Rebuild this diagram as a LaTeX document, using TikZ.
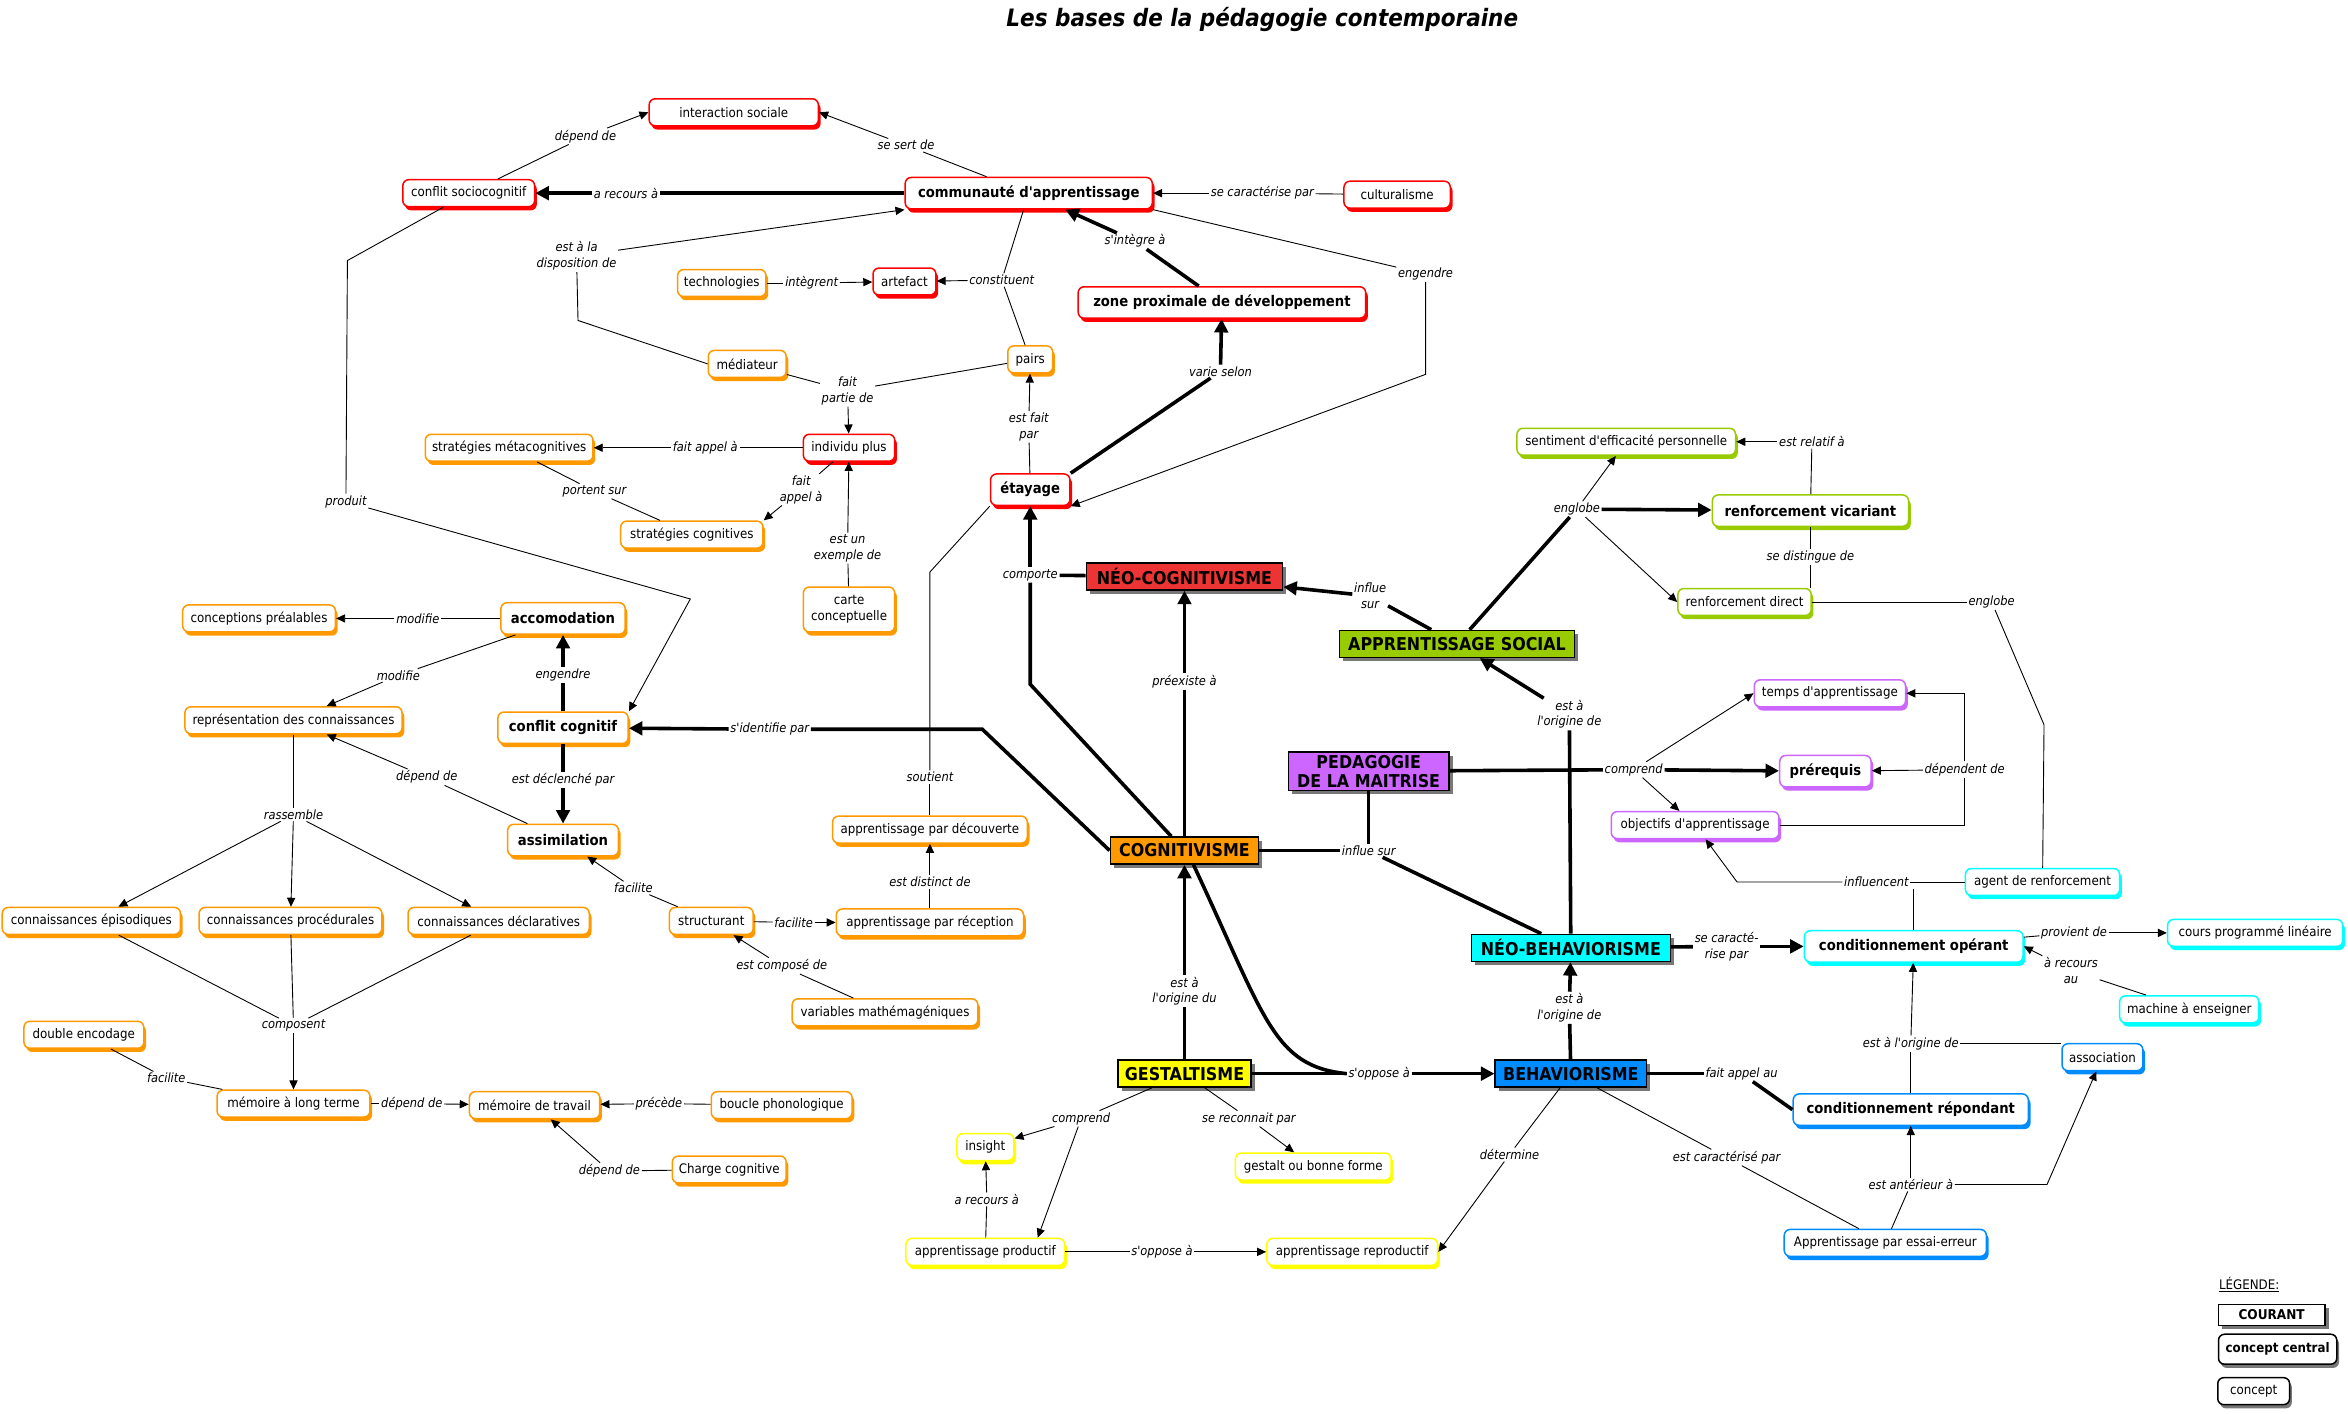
\documentclass[tikz,border=0pt]{standalone}
\usepackage{fontspec}
\setmainfont{DejaVu Sans Condensed}[Ligatures=TeXOff]
\usepackage{tikz}
\usetikzlibrary{arrows.meta,calc,positioning,shadows}
\definecolor{cmrouge}{RGB}{255,0,0}
\definecolor{cmrougefonce}{RGB}{236,52,52}
\definecolor{cmorange}{RGB}{255,153,0}
\definecolor{cmjaune}{RGB}{255,255,0}
\definecolor{cmvert}{RGB}{153,204,0}
\definecolor{cmviolet}{RGB}{204,102,255}
\definecolor{cmcyan}{RGB}{0,255,255}
\definecolor{cmbleu}{RGB}{0,140,255}
\definecolor{cmombre}{RGB}{120,120,120}
\newcommand\fconcept{\fontsize{8.8}{10.5}\selectfont}
\newcommand\fcentral{\fontsize{9.8}{11.5}\selectfont\bfseries}
\newcommand\fcourant{\fontsize{11.8}{12.8}\selectfont\bfseries}
\newcommand\flien{\fontsize{8.5}{10.5}\selectfont\itshape}
\newcommand\ftitre{\fontsize{16}{18}\selectfont\bfseries\itshape}

\begin{document}
\begin{tikzpicture}[
      x=1pt, y=-1pt,
      concept/.style={draw=#1, fill=white, rounded corners=4pt, line width=1pt, inner xsep=4pt, inner ysep=2pt, minimum height=18pt, align=center, font=\fconcept, drop shadow={shadow xshift=1.5pt, shadow yshift=-2.5pt, fill=#1, opacity=1}},
      central/.style={concept=#1, font=\fcentral, minimum height=21pt},
      courant/.style={draw=black, fill=#1, line width=1pt, inner xsep=3pt, inner ysep=2pt, minimum height=18pt, align=center, font=\fcourant, drop shadow={shadow xshift=2.5pt, shadow yshift=-2.5pt, fill=cmombre, opacity=1}},
      legende/.style={draw=black, fill=white, rounded corners=4pt, line width=1pt, inner xsep=4pt, minimum height=18pt, font=\fconcept, drop shadow={shadow xshift=1.5pt, shadow yshift=-2.5pt, fill=cmombre, opacity=1}},
      lien/.style={font=\flien, inner sep=1pt, align=center},
      trait/.style={line width=0.6pt},
      fleche/.style={line width=0.6pt, -{Triangle[length=6pt,width=5.5pt]}},
      gros/.style={line width=2.4pt},
      grosfleche/.style={line width=2.4pt, -{Triangle[length=9pt,width=9pt]}}
    ]
      \path[use as bounding box, fill=white] (0,0) rectangle (1568,944);

      \node[font=\ftitre] (titre) at (843,13) {Les bases de la pédagogie contemporaine};

      % courants
      \node[courant=cmrougefonce, minimum width=131pt] (ncog) at (791,385) {NÉO-COGNITIVISME};
      \node[courant=cmorange, minimum width=99pt] (cogn) at (791,568) {COGNITIVISME};
      \node[courant=cmjaune, minimum width=89pt] (gest) at (791,717) {GESTALTISME};
      \node[courant=cmvert, minimum width=157pt] (aps) at (973,430) {APPRENTISSAGE SOCIAL};
      \node[courant=cmviolet, minimum width=107pt] (ped) at (914,515) {PEDAGOGIE\\DE LA MAITRISE};
      \node[courant=cmcyan, minimum width=133pt] (nbeh) at (1049,633) {NÉO-BEHAVIORISME};
      \node[courant=cmbleu, minimum width=101pt] (beh) at (1049,717) {BEHAVIORISME};

      % concepts rouges
      \node[concept=cmrouge, minimum width=113pt] (inter) at (490,75) {interaction sociale};
      \node[concept=cmrouge, minimum width=88pt] (csc) at (313,129) {conflit sociocognitif};
      \node[central=cmrouge, minimum width=165pt] (comm) at (687,129) {communauté d'apprentissage};
      \node[concept=cmrouge, minimum width=71pt] (cult) at (933,130) {culturalisme};
      \node[concept=cmrouge, minimum width=42pt] (artef) at (604,188) {artefact};
      \node[central=cmrouge, minimum width=192pt] (zpd) at (816,202) {zone proximale de développement};
      \node[concept=cmrouge, minimum width=61pt] (indiv) at (567,299) {individu plus};
      \node[central=cmrouge, minimum width=53pt] (etay) at (688,327) {étayage};

      % concepts orange
      \node[concept=cmorange, minimum width=59pt] (techno) at (482,189) {technologies};
      \node[concept=cmorange, minimum width=52pt] (media) at (499,243) {médiateur};
      \node[concept=cmorange, minimum width=30pt] (pairs) at (688,240) {pairs};
      \node[concept=cmorange, minimum width=112pt] (smeta) at (340,299) {stratégies métacognitives};
      \node[concept=cmorange, minimum width=95pt] (scog) at (462,357) {stratégies cognitives};
      \node[concept=cmorange, minimum width=61pt, minimum height=30pt] (carte) at (567,407) {carte\\conceptuelle};
      \node[concept=cmorange, minimum width=102pt] (concp) at (173,413) {conceptions préalables};
      \node[central=cmorange, minimum width=83pt] (accom) at (376,413) {accomodation};
      \node[concept=cmorange, minimum width=145pt] (repr) at (196,481) {représentation des connaissances};
      \node[central=cmorange, minimum width=87pt] (ccog) at (376,486) {conflit cognitif};
      \node[central=cmorange, minimum width=74pt] (assim) at (376,561) {assimilation};
      \node[concept=cmorange, minimum width=130pt] (decouv) at (621,554) {apprentissage par découverte};
      \node[concept=cmorange, minimum width=119pt] (kepi) at (61,615) {connaissances épisodiques};
      \node[concept=cmorange, minimum width=122pt] (kproc) at (194,615) {connaissances procédurales};
      \node[concept=cmorange, minimum width=121pt] (kdecl) at (333,615) {connaissances déclaratives};
      \node[concept=cmorange, minimum width=56pt] (struct) at (475,615) {structurant};
      \node[concept=cmorange, minimum width=125pt] (recep) at (621,616) {apprentissage par réception};
      \node[concept=cmorange, minimum width=124pt] (varm) at (591,676) {variables mathémagéniques};
      \node[concept=cmorange, minimum width=80pt] (dbl) at (56,691) {double encodage};
      \node[concept=cmorange, minimum width=102pt] (mlt) at (196,737) {mémoire à long terme};
      \node[concept=cmorange, minimum width=87pt] (mtr) at (357,738) {mémoire de travail};
      \node[concept=cmorange, minimum width=94pt] (boucle) at (522,738) {boucle phonologique};
      \node[concept=cmorange, minimum width=76pt] (charge) at (487,781) {Charge cognitive};

      % concepts jaunes
      \node[concept=cmjaune, minimum width=38pt] (insight) at (658,766) {insight};
      \node[concept=cmjaune, minimum width=104pt] (gestf) at (877,779) {gestalt ou bonne forme};
      \node[concept=cmjaune, minimum width=106pt] (aprod) at (658,836) {apprentissage productif};
      \node[concept=cmjaune, minimum width=114pt] (arepr) at (903,836) {apprentissage reproductif};

      % concepts verts
      \node[concept=cmvert, minimum width=146pt] (sent) at (1086,295) {sentiment d'efficacité personnelle};
      \node[central=cmvert, minimum width=131pt] (rvic) at (1209,341) {renforcement vicariant};
      \node[concept=cmvert, minimum width=89pt] (rdir) at (1165,402) {renforcement direct};

      % concepts violets
      \node[concept=cmviolet, minimum width=101pt] (temps) at (1222,463) {temps d'apprentissage};
      \node[central=cmviolet, minimum width=61pt] (prereq) at (1219,515) {prérequis};
      \node[concept=cmviolet, minimum width=112pt] (objec) at (1132,551) {objectifs d'apprentissage};

      % concepts cyan et bleus
      \node[central=cmcyan, minimum width=146pt] (cop) at (1278,632) {conditionnement opérant};
      \node[concept=cmcyan, minimum width=103pt] (agent) at (1364,589) {agent de renforcement};
      \node[concept=cmcyan, minimum width=117pt] (cours) at (1506,623) {cours programmé linéaire};
      \node[concept=cmcyan, minimum width=93pt] (mach) at (1462,674) {machine à enseigner};
      \node[concept=cmbleu, minimum width=54pt] (assoc) at (1404,706) {association};
      \node[central=cmbleu, minimum width=157pt] (crep) at (1276,741) {conditionnement répondant};
      \node[concept=cmbleu, minimum width=135pt] (essai) at (1259,830) {Apprentissage par essai-erreur};

      % mots de liaison
      \node[lien] (lRecours) at (418,129) {a recours à};
      \node[lien] (lDep1) at (391,91) {dépend de};
      \node[lien] (lSert) at (605,97) {se sert de};
      \node[lien] (lCar) at (843,129) {se caractérise par};
      \node[lien] (lDisp) at (385,171) {est à la\\disposition de};
      \node[lien] (lInteg) at (542,189) {intègrent};
      \node[lien] (lConst) at (669,187) {constituent};
      \node[lien] (lPartie) at (566,261) {fait\\partie de};
      \node[lien] (lAppel1) at (471,299) {fait appel à};
      \node[lien] (lAppel2) at (535,327) {fait\\appel à};
      \node[lien] (lPortent) at (397,328) {portent sur};
      \node[lien] (lExemple) at (566,366) {est un\\exemple de};
      \node[lien] (lFaitPar) at (687,285) {est fait\\par};
      \node[lien] (lVarie) at (815,248) {varie selon};
      \node[lien] (lInteg2) at (758,161) {s'intègre à};
      \node[lien] (lEngendre1) at (952,183) {engendre};
      \node[lien] (lProduit) at (231,335) {produit};
      \node[lien] (lModif1) at (279,413) {modifie};
      \node[lien] (lModif2) at (266,451) {modifie};
      \node[lien] (lEngendre2) at (376,451) {engendre};
      \node[lien] (lDecl) at (376,521) {est déclenché par};
      \node[lien] (lDep2) at (285,519) {dépend de};
      \node[lien] (lRass) at (196,544) {rassemble};
      \node[lien] (lComp) at (196,685) {composent};
      \node[lien] (lFacil1) at (111,720) {facilite};
      \node[lien] (lDep3) at (275,737) {dépend de};
      \node[lien] (lPrec) at (440,737) {précède};
      \node[lien] (lDep4) at (407,782) {dépend de};
      \node[lien] (lFacil2) at (423,593) {facilite};
      \node[lien] (lFacil3) at (530,616) {facilite};
      \node[lien] (lCompose) at (522,645) {est composé de};
      \node[lien] (lDistinct) at (621,589) {est distinct de};
      \node[lien] (lSout) at (621,519) {soutient};
      \node[lien] (lIdent) at (514,487) {s'identifie par};
      \node[lien] (lComporte) at (688,384) {comporte};
      \node[lien] (lPreex) at (791,455) {préexiste à};
      \node[lien] (lInflue1) at (915,398) {influe\\sur};
      \node[lien] (lEnglobe1) at (1053,340) {englobe};
      \node[lien] (lRelatif) at (1210,295) {est relatif à};
      \node[lien] (lDistingue) at (1209,372) {se distingue de};
      \node[lien] (lEnglobe2) at (1330,402) {englobe};
      \node[lien] (lOrig1) at (1048,477) {est à\\l'origine de};
      \node[lien] (lComprend1) at (1091,514) {comprend};
      \node[lien] (lDependent) at (1312,514) {dépendent de};
      \node[lien] (lInflue2) at (914,568) {influe sur};
      \node[lien] (lOrig2) at (791,662) {est à\\l'origine du};
      \node[lien] (lOppose1) at (921,717) {s'oppose à};
      \node[lien] (lOrig3) at (1048,673) {est à\\l'origine de};
      \node[lien] (lCaract) at (1153,632) {se caracté-\\rise par};
      \node[lien] (lFaitAppel) at (1163,717) {fait appel au};
      \node[lien] (lDetermine) at (1008,771) {détermine};
      \node[lien] (lCaracterise) at (1153,773) {est caractérisé par};
      \node[lien] (lAnterieur) at (1276,791) {est antérieur à};
      \node[lien] (lOrig4) at (1276,697) {est à l'origine de};
      \node[lien] (lRecours2) at (1383,648) {à recours\\au};
      \node[lien] (lProvient) at (1385,623) {provient de};
      \node[lien] (lInfluencent) at (1253,589) {influencent};
      \node[lien] (lComprend2) at (722,747) {comprend};
      \node[lien] (lReconnait) at (834,747) {se reconnait par};
      \node[lien] (lRecours3) at (659,801) {a recours à};
      \node[lien] (lOppose2) at (776,836) {s'oppose à};

      % liens du haut
      \draw[gros] (comm) -- (lRecours);
      \draw[grosfleche] (lRecours) -- (csc);
      \draw[trait] (csc) -- (lDep1);
      \draw[fleche] (lDep1) -- (inter.west);
      \draw[trait] (comm) -- (lSert);
      \draw[fleche] (lSert) -- (inter.east);
      \draw[trait] (cult) -- (lCar);
      \draw[fleche] (lCar) -- (comm);
      \draw[trait] (media.west) -- (386,214) -- (lDisp);
      \draw[fleche] (lDisp) -- (comm.south west);
      \draw[trait] (techno) -- (lInteg);
      \draw[fleche] (lInteg) -- (artef);
      \draw[trait] (comm) -- (lConst);
      \draw[trait] (lConst) -- (pairs);
      \draw[fleche] (lConst) -- (artef);
      \draw[trait] (media) -- (lPartie);
      \draw[trait] (pairs) -- (lPartie);
      \draw[fleche] (lPartie) -- (indiv);
      \draw[trait] (indiv) -- (lAppel1);
      \draw[fleche] (lAppel1) -- (smeta);
      \draw[trait] (indiv) -- (lAppel2);
      \draw[fleche] (lAppel2) -- (scog.north east);
      \draw[trait] (smeta) -- (lPortent);
      \draw[trait] (lPortent) -- (scog);
      \draw[trait] (carte) -- (lExemple);
      \draw[fleche] (lExemple) -- (indiv);
      \draw[trait] (etay) -- (lFaitPar);
      \draw[fleche] (lFaitPar) -- (pairs);
      \draw[gros] (etay.north east) -- (lVarie);
      \draw[grosfleche] (lVarie) -- (zpd);
      \draw[gros] (zpd) -- (lInteg2);
      \draw[grosfleche] (lInteg2) -- (comm);
      \draw[trait] (comm.south east) -- (lEngendre1);
      \draw[fleche] (lEngendre1) -- (952,250) -- (etay.south east);

      % liens de gauche
      \draw[trait] (csc) -- (232,174) -- (lProduit);
      \draw[fleche] (lProduit) -- (461,400) -- (ccog.north east);
      \draw[trait] (accom) -- (lModif1);
      \draw[fleche] (lModif1) -- (concp);
      \draw[trait] (accom) -- (lModif2);
      \draw[fleche] (lModif2) -- (repr);
      \draw[gros] (ccog) -- (lEngendre2);
      \draw[grosfleche] (lEngendre2) -- (accom);
      \draw[gros] (ccog) -- (lDecl);
      \draw[grosfleche] (lDecl) -- (assim);
      \draw[trait] (assim) -- (lDep2);
      \draw[fleche] (lDep2) -- (repr);
      \draw[trait] (repr) -- (lRass);
      \foreach \k in {kepi,kproc,kdecl} {
        \draw[fleche] (lRass) -- (\k);
        \draw[trait] (\k) -- (lComp);
      }
      \draw[fleche] (lComp) -- (mlt);
      \draw[trait] (dbl) -- (lFacil1);
      \draw[trait] (lFacil1) -- (mlt);
      \draw[trait] (mlt) -- (lDep3);
      \draw[fleche] (lDep3) -- (mtr);
      \draw[trait] (boucle) -- (lPrec);
      \draw[fleche] (lPrec) -- (mtr);
      \draw[trait] (charge) -- (lDep4);
      \draw[fleche] (lDep4) -- (mtr);
      \draw[trait] (struct) -- (lFacil2);
      \draw[fleche] (lFacil2) -- (assim);
      \draw[trait] (struct) -- (lFacil3);
      \draw[fleche] (lFacil3) -- (recep);
      \draw[trait] (varm) -- (lCompose);
      \draw[fleche] (lCompose) -- (struct);
      \draw[trait] (recep) -- (lDistinct);
      \draw[fleche] (lDistinct) -- (decouv);
      \draw[trait] (decouv) -- (lSout);
      \draw[trait] (lSout) -- (621,382) -- (etay.south west);

      % liens des courants
      \draw[gros] (cogn.west) -- (656,487) -- (lIdent);
      \draw[grosfleche] (lIdent) -- (ccog);
      \draw[gros] (cogn) -- (688,457) -- (lComporte);
      \draw[gros] (ncog) -- (lComporte);
      \draw[grosfleche] (lComporte) -- (etay);
      \draw[gros] (cogn) -- (lPreex);
      \draw[grosfleche] (lPreex) -- (ncog);
      \draw[gros] (aps) -- (lInflue1);
      \draw[grosfleche] (lInflue1) -- (ncog);
      \draw[gros] (aps) -- (lEnglobe1);
      \draw[fleche] (lEnglobe1) -- (sent);
      \draw[grosfleche] (lEnglobe1) -- (rvic);
      \draw[fleche] (lEnglobe1) -- (rdir.west);
      \draw[trait] (rvic) -- (lRelatif);
      \draw[fleche] (lRelatif) -- (sent);
      \draw[trait] (rvic) -- (lDistingue);
      \draw[trait] (lDistingue) -- (lDistingue |- rdir.north);
      \draw[trait] (rdir) -- (lEnglobe2);
      \draw[trait] (lEnglobe2) -- (1365,484) -- (agent);
      \draw[gros] (nbeh) -- (lOrig1);
      \draw[grosfleche] (lOrig1) -- (aps);
      \draw[gros] (ped) -- (lComprend1);
      \draw[grosfleche] (lComprend1) -- (prereq);
      \draw[fleche] (lComprend1) -- (temps.west);
      \draw[fleche] (lComprend1) -- (objec);
      \draw[trait] (objec) -| (lDependent);
      \draw[fleche] (lDependent) |- (temps);
      \draw[fleche] (lDependent) -- (prereq);
      \draw[gros] (ped) -- (lInflue2);
      \draw[gros] (cogn) -- (lInflue2);
      \draw[gros] (lInflue2) -- (nbeh);
      \draw[gros] (gest) -- (lOrig2);
      \draw[grosfleche] (lOrig2) -- (cogn);
      \draw[gros] ([xshift=6pt]cogn.south) .. controls (845,680) and (850,712) .. (lOppose1.west);
      \draw[gros] (gest) -- (lOppose1);
      \draw[grosfleche] (lOppose1) -- (beh);
      \draw[gros] (beh) -- (lOrig3);
      \draw[grosfleche] (lOrig3) -- (nbeh);
      \draw[gros] (nbeh) -- (lCaract);
      \draw[grosfleche] (lCaract) -- (cop);
      \draw[gros] (beh) -- (lFaitAppel);
      \draw[gros] (lFaitAppel) -- (crep.west);

      % liens de droite
      \draw[trait] (beh) -- (lDetermine);
      \draw[fleche] (lDetermine) -- (arepr.east);
      \draw[trait] (beh) -- (lCaracterise);
      \draw[trait] (lCaracterise) -- (essai);
      \draw[trait] (essai) -- (lAnterieur);
      \draw[fleche] (lAnterieur) -- (crep);
      \draw[fleche] (lAnterieur) -- (1367,791) -- (assoc);
      \draw[trait] (crep) -- (lOrig4);
      \draw[trait] (lOrig4) -- (lOrig4 -| assoc.west);
      \draw[fleche] (lOrig4) -- (cop);
      \draw[trait] (mach) -- (lRecours2);
      \draw[fleche] (lRecours2) -- (cop.east);
      \draw[trait] (cop) -- (lProvient);
      \draw[fleche] (lProvient) -- (cours);
      \draw[trait] (agent) -- (lInfluencent);
      \draw[trait] (cop) -- (cop |- lInfluencent.south);
      \draw[fleche] (lInfluencent) -- (1160,589) -- (objec);

      % liens du bas
      \draw[trait] (gest) -- (lComprend2);
      \draw[fleche] (lComprend2) -- (insight);
      \draw[fleche] (lComprend2) -- ([xshift=35pt]aprod.north);
      \draw[trait] (gest) -- (lReconnait);
      \draw[fleche] (lReconnait) -- (gestf);
      \draw[trait] (aprod) -- (lRecours3);
      \draw[fleche] (lRecours3) -- (insight);
      \draw[trait] (aprod) -- (lOppose2);
      \draw[fleche] (lOppose2) -- (arepr);

      % legende
      \node[font=\fconcept] (legende) at (1502,858) {\underline{LÉGENDE:}};
      \node[courant=white, font=\fontsize{9}{10}\selectfont\bfseries, minimum width=71pt, minimum height=14pt, inner ysep=1pt] (lgCourant) at (1517,878) {COURANT};
      \node[legende, font=\fontsize{8.8}{10}\selectfont\bfseries, minimum width=79pt, minimum height=20pt] (lgCentral) at (1521,901) {concept central};
      \node[legende, minimum width=48pt] (lgConcept) at (1505,929) {concept};
    \end{tikzpicture}
\end{document}
